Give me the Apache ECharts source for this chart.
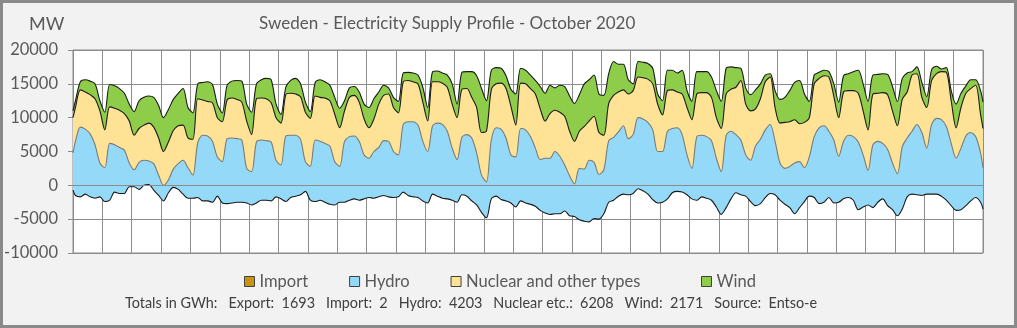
<!DOCTYPE html>
<html>
<head>
<meta charset="utf-8">
<script src="https://cdn.jsdelivr.net/npm/echarts@6.0.0/dist/echarts.min.js"></script>
<style>
html,body{margin:0;padding:0;background:#f2f2f2;}
#wrap{position:relative;width:1017px;height:328px;}
#chart{position:absolute;left:0;top:0;width:1017px;height:328px;}
#frame{position:absolute;left:0;top:0;width:1017px;height:328px;box-sizing:border-box;border:3px solid #8a8a8a;pointer-events:none;}
</style>
</head>
<body>
<div id="wrap"><div id="chart"></div><div id="frame"></div></div>
<script>
// Values in MW, one point at the start of the month, then every 4 hours (02,06,10,14,18,22 h each day), then the month end.
// Upper edge of the wind band (total supply)
const windTop = [11000,
 12500,15300,15600,15400,15000,12500,
 10800,14900,14700,14300,13600,12000,
 10900,12500,13000,13200,13000,11800,
 10000,11200,12700,13600,14300,11500,
 10700,15000,15200,15300,14900,12000,
 10700,14800,15400,15500,15400,12000,
 10800,15000,15600,15800,15600,12000,
 10500,14500,15500,15800,15000,12300,
 10900,15200,15600,15300,14800,13000,
 11400,12500,14400,14600,13800,12000,
 11500,12800,13800,14800,14400,13000,
 12400,16600,16700,16600,16300,14500,
 11500,16800,16900,16600,16300,15000,
 12000,16700,16800,16800,16200,14300,
 12500,17000,17400,17300,16200,14200,
 13500,17300,17000,16300,15500,14600,
 13600,14800,14400,14800,14600,13200,
 12100,13400,15000,15600,16300,13500,
 13300,16500,18300,17900,17900,15600,
 15000,18300,18200,18000,17300,13500,
 12500,17000,17000,16600,17000,14000,
 12400,16800,16800,16800,16000,14000,
 12400,17300,17500,17400,17300,14400,
 13400,14100,15000,16300,16500,14000,
 12700,13000,14000,15200,15500,13500,
 12400,16300,16700,17000,16800,15000,
 12300,16200,16500,16800,17000,15000,
 12400,16300,16400,16500,16400,14600,
 12400,15800,16600,16800,17500,15200,
 13100,17100,17600,17200,17400,14000,
 12000,13600,14700,15600,15600,14000,
 12300];
// Upper edge of the nuclear and other types band
const nuclearTop = [10000,
 11500,14100,13800,13400,12800,11000,
 8200,11600,11400,11100,10600,9500,
 7400,8400,8900,9200,8600,7000,
 5000,6400,8100,8800,8900,7000,
 6800,12800,12600,12400,12200,10000,
 9400,12600,12900,12700,12300,9500,
 7500,12800,12900,12800,12200,10000,
 9200,13400,13600,13500,13100,10800,
 9900,13200,13000,12900,12500,10500,
 8500,11000,13000,13300,12300,9800,
 8500,9800,12000,13300,13500,11500,
 10700,15300,15500,15300,15000,12300,
 9500,15300,15300,15100,14500,12000,
 10000,14200,14300,13000,11500,7800,
 8000,14100,15000,15100,14300,11700,
 8900,15100,15000,14300,13500,11300,
 9500,10600,11100,10800,10200,8000,
 6500,8000,8700,9500,10200,7800,
 7400,12100,13300,13800,14100,13500,
 14000,16000,15900,15700,15000,12000,
 10400,14000,14100,13800,13500,11500,
 9700,13500,13700,13700,13000,10000,
 8400,13500,14200,14500,15500,12000,
 11000,11300,12800,15300,16000,11500,
 9200,9300,9400,9700,9100,9300,
 10000,15000,15800,16200,16000,13200,
 10000,13800,14000,14000,13600,11000,
 8200,13500,13600,13700,13400,11000,
 8800,12700,13800,16300,16500,13000,
 11500,15500,16500,16800,16700,12500,
 8500,11500,13600,14300,14800,10500,
 8400];
// Upper edge of the hydro band
const hydroTop = [4800,
 6500,8600,8300,7600,6000,3300,
 2600,6200,6000,5600,5200,3300,
 2300,3400,3700,3600,3200,1500,
 0,800,2400,3200,3700,2600,
 1500,6300,7400,7300,6500,4200,
 3500,6900,7000,6900,6700,2500,
 2000,6400,6700,6600,6400,3700,
 3000,7300,7400,7400,6800,3500,
 2800,6700,6500,6200,5800,3500,
 2800,6500,7200,7300,6500,4500,
 4000,5000,5600,6600,6500,5000,
 4500,9000,9400,9400,8900,6500,
 5000,8800,9200,9000,8000,5500,
 3800,7100,7500,7000,4800,1500,
 500,6700,8500,8300,7000,4500,
 4200,8400,8200,7200,5500,3800,
 4000,4000,5000,4300,3000,1400,
 200,2500,2400,3700,3400,1600,
 2300,6600,7100,7900,8800,6900,
 7500,10000,9800,9300,8200,5000,
 5000,8000,8400,8500,7500,4500,
 2500,7200,7400,7200,6600,4000,
 2000,7400,8000,7500,6700,4500,
 3700,5800,6800,8200,9000,6500,
 3300,2500,2800,3300,3500,2600,
 4200,7200,8500,8800,8000,6700,
 4300,6500,7400,7200,6400,4500,
 2200,6000,6500,6200,5300,3300,
 1700,5700,7000,8000,9000,7800,
 5500,9000,9900,9700,8700,6200,
 4000,5500,7300,7800,7200,4800,
 2600];
// Export (drawn below zero)
const exportLine = [-700,
 -1500,-1700,-1300,-1700,-1900,-1700,
 -2400,-2200,-1000,-1200,-1200,-200,
 -200,-600,0,100,-700,-1500,
 -2300,-1100,-300,-600,-1300,-1900,
 -1900,-1800,-2300,-2300,-2500,-1600,
 -2600,-2700,-2600,-2500,-2500,-2600,
 -2900,-2600,-2200,-2200,-2300,-1700,
 -2000,-2400,-1800,-1600,-1400,-900,
 -2200,-2400,-2200,-2500,-2800,-2900,
 -2500,-2500,-2200,-2000,-2200,-2000,
 -1800,-1900,-1700,-1500,-1700,-1800,
 -1700,-1000,-1500,-1700,-1800,-2300,
 -2600,-1300,-1600,-1900,-2000,-2200,
 -2500,-1400,-1600,-2300,-2900,-4000,
 -4800,-2000,-1600,-2100,-2300,-2600,
 -3200,-2300,-2600,-2800,-3100,-3700,
 -4100,-4300,-4200,-4200,-3800,-4500,
 -4600,-5100,-5300,-5400,-4900,-5000,
 -4200,-2500,-2200,-1600,-1300,-1400,
 -1200,-500,-800,-1300,-2100,-2600,
 -2500,-2000,-1100,-900,-1000,-1400,
 -2000,-2200,-1700,-1900,-2200,-3200,
 -4300,-3300,-2000,-1100,-1400,-1600,
 -2400,-3000,-2700,-1800,-1200,-1400,
 -2200,-2800,-3300,-4200,-3300,-2400,
 -1600,-1800,-2700,-2500,-1800,-2600,
 -2500,-2000,-1800,-2200,-3600,-3200,
 -2900,-3300,-2500,-2000,-3000,-3600,
 -4500,-3500,-1700,-1300,-1400,-1500,
 -1300,-1300,-1300,-1600,-2200,-3000,
 -3700,-3600,-3000,-2300,-1800,-2500,
 -3500];

const legendNames = ['Import', 'Hydro', 'Nuclear and other types', 'Wind'];
const yTicks = {min: -10000, max: 20000, step: 5000};
const titleText = 'Sweden - Electricity Supply Profile - October 2020';
const unitText = 'MW';
const totalsText = 'Totals in GWh:   Export:  1693   Import:  2   Hydro:  4203   Nuclear etc.:  6208   Wind:  2171   Source:  Entso-e';

// hour of month for each sample
const hours = [0];
for (let k = 0; k < 186; k++) hours.push(2 + 4 * k);
hours.push(744);
const pairs = arr => arr.map((v, i) => [hours[i], v]);

const FONT = 'Lato, "Open Sans", sans-serif';
const TXT = '#595959';
const GRIDC = '#8c8c8c';
const BLUE = '#95d9f8';
const YELLOW = '#fee295';
const GREEN = '#8dcd4a';
const GOLD = '#c99510';

const chart = echarts.init(document.getElementById('chart'), null, {renderer: 'canvas'});
const areaLine = (name, data, fill, lineColor) => ({
  name, type: 'line', data: pairs(data), showSymbol: false, smooth: 0.3,
  lineStyle: {color: lineColor, width: 1.1},
  itemStyle: {color: fill, borderColor: '#404040', borderWidth: 1},
  areaStyle: {color: fill, opacity: 1},
  emphasis: {disabled: true}, silent: true
});
const legendBase = {
  top: 268, itemGap: 41, itemWidth: 10, itemHeight: 10,
  icon: 'rect', selectedMode: false,
  textStyle: {color: TXT, fontSize: 16.5, fontFamily: FONT},
  itemStyle: {borderColor: '#404040', borderWidth: 1}
};

chart.setOption({
  animation: false,
  backgroundColor: '#f2f2f2',
  grid: {left: 73, top: 50, width: 910, height: 203, show: true, backgroundColor: '#ffffff', borderColor: GRIDC, borderWidth: 1},
  xAxis: {type: 'value', min: 0, max: 744, interval: 24,
    axisLabel: {show: false}, axisTick: {show: false}, axisLine: {show: false},
    splitLine: {show: true, lineStyle: {color: GRIDC, width: 1}}},
  yAxis: {type: 'value', min: yTicks.min, max: yTicks.max, interval: yTicks.step,
    axisLabel: {color: TXT, fontSize: 16.5, fontFamily: FONT, margin: 15, formatter: v => String(v)},
    axisTick: {show: true, length: 5, lineStyle: {color: GRIDC}},
    axisLine: {show: true, lineStyle: {color: GRIDC}},
    splitLine: {show: true, lineStyle: {color: GRIDC, width: 1}}},
  legend: [
    Object.assign({}, legendBase, {data: legendNames.slice(0, 3), left: 239}),
    Object.assign({}, legendBase, {data: legendNames.slice(3), left: 696})
  ],
  graphic: [
    {type: 'text', left: 259, top: 15, style: {text: titleText, fill: TXT, font: '17px ' + FONT}},
    {type: 'text', left: 29, top: 15, style: {text: unitText, fill: TXT, font: '18px ' + FONT}},
    {type: 'text', left: 125, top: 296, style: {text: totalsText, fill: '#404040', font: '14.4px ' + FONT}}
  ],
  series: [
    areaLine('Wind', windTop, GREEN, '#1a1a1a'),
    areaLine('Nuclear and other types', nuclearTop, YELLOW, '#1a1a1a'),
    areaLine('Hydro', hydroTop, BLUE, '#7a7a7a'),
    Object.assign(areaLine('Export', exportLine, BLUE, '#1a1a1a'), {
      markLine: {silent: true, symbol: 'none', label: {show: false},
        lineStyle: {color: GRIDC, type: 'solid', width: 1}, data: [{yAxis: 0}]}
    }),
    {name: 'Import', type: 'line', data: [], itemStyle: {color: GOLD}, lineStyle: {color: GOLD}}
  ]
});
</script>
</body>
</html>
